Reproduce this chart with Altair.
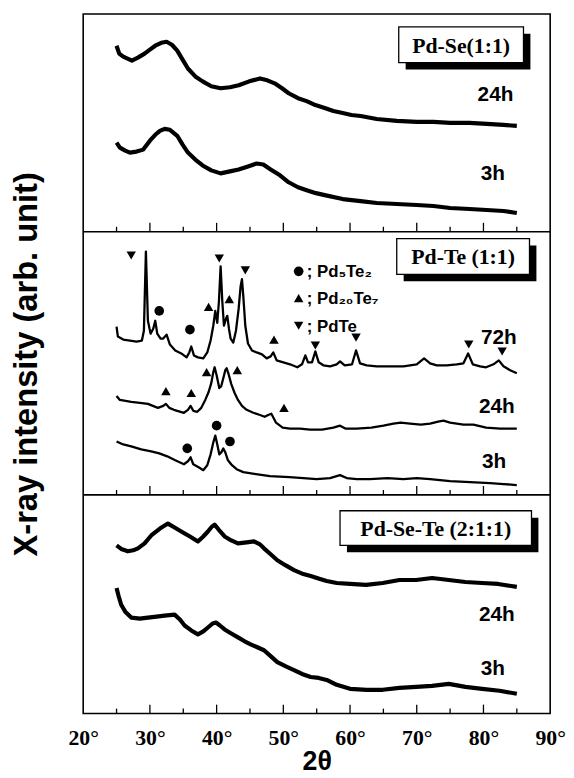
import altair as alt
import pandas as pd

# ---------------- axis / layout values ----------------
x_domain = [20, 90]
axis_values = [20, 30, 40, 50, 60, 70, 80, 90]
major_ticks = [30, 40, 50, 60, 70, 80]
minor_ticks = [25, 35, 45, 55, 65, 75, 85]

panel_names = ["Pd-Se(1:1)", "Pd-Te (1:1)", "Pd-Se-Te (2:1:1)"]
panel_base = [487, 221, 0]          # stacking offset of each panel (arb. units)
panel_dividers = [221, 487]
y_total = 707

# ---------------- Pd-Se (1:1) ----------------
se24_theta = [25.0, 25.4, 26.0, 27.3, 28.2, 29.2, 30.0, 30.8, 31.7, 32.5,
              33.3, 34.1, 34.9, 35.7, 36.8, 37.9, 39.2, 40.6, 42.0, 43.3,
              44.9, 46.5, 47.6, 48.7, 49.8, 50.8, 52.2, 53.5, 54.8, 56.2,
              57.5, 58.9, 60.2, 61.6, 64.0, 67.0, 70.0, 72.5, 75.0, 77.9,
              80.5, 83.0, 85.0]
se24_int = [188, 180, 177, 173, 176, 180, 184, 188, 191, 192,
            189, 183, 174, 165, 157, 152, 147, 145, 146, 148,
            152, 155, 153, 150, 145, 140, 135, 132, 128, 125,
            122, 120, 118, 117, 114, 112, 111, 111, 110, 110,
            109, 108, 107]
se3_theta = [25.0, 25.5, 26.3, 27.0, 28.0, 29.0, 30.0, 30.8, 31.5, 32.2,
             33.0, 34.1, 34.9, 35.7, 36.8, 37.9, 39.2, 40.6, 42.0, 43.3,
             44.7, 46.0, 47.0, 48.1, 49.5, 50.8, 52.2, 53.5, 54.9, 56.2,
             58.9, 61.6, 64.0, 67.0, 70.0, 72.5, 75.0, 77.9, 80.5, 83.0,
             85.0]
se3_int = [90, 85, 82, 80, 81, 83, 92, 98, 102, 104,
           103, 97, 88, 80, 73, 67, 62, 59, 61, 63,
           66, 69, 68, 63, 57, 50, 45, 42, 39, 37,
           33, 31, 29, 28, 27, 26, 24, 23, 22, 21,
           19]

# ---------------- Pd-Te (1:1) ----------------
te72_theta = [25.0, 25.2, 26.0, 27.0, 28.0, 28.8, 29.1, 29.4, 29.7, 30.1,
              30.5, 30.8, 31.1, 31.6, 32.0, 32.5, 33.0, 33.8, 34.7, 35.5,
              35.9, 36.2, 36.6, 37.2, 38.0, 38.6, 39.1, 39.5, 39.8, 40.1,
              40.35, 40.6, 40.85, 41.1, 41.4, 41.6, 41.85, 42.1, 42.5, 42.9,
              43.3, 43.6, 43.8, 44.0, 44.3, 44.7, 45.3, 46.0, 46.8, 47.5,
              48.1, 48.5, 49.0, 50.0, 51.0, 52.1, 52.8, 53.3, 53.7, 54.3,
              54.8, 55.3, 56.0, 57.0, 58.0, 58.5, 59.2, 60.3, 60.9, 61.5,
              62.5, 64.0, 66.0, 68.0, 70.0, 71.1, 72.0, 73.0, 74.5, 76.0,
              77.0, 77.7, 78.4, 79.5, 80.4, 81.5, 82.3, 83.0, 84.0, 85.0]
te72_int = [170, 160, 157, 156, 155, 156, 166, 246, 176, 163,
            168, 176, 163, 158, 158, 162, 152, 146, 143, 139,
            144, 150, 141, 139, 138, 144, 156, 171, 186, 174,
            196, 231, 196, 171, 178, 181, 168, 158, 154, 166,
            188, 211, 218, 201, 171, 153, 146, 144, 142, 138,
            140, 144, 136, 134, 132, 129, 132, 141, 134, 134,
            145, 134, 131, 130, 132, 135, 131, 132, 146, 133,
            131, 130, 130, 130, 132, 138, 133, 131, 131, 132,
            133, 143, 132, 130, 129, 132, 136, 130, 126, 123]
te24_theta = [25.0, 25.5, 27.2, 28.5, 29.7, 31.2, 32.0, 32.4, 32.9, 33.6,
              35.1, 35.7, 36.1, 36.5, 37.1, 37.7, 38.3, 38.8, 39.2, 39.5,
              39.7, 40.0, 40.4, 40.7, 41.0, 41.3, 41.5, 41.8, 42.2, 42.7,
              43.2, 43.8, 44.5, 45.5, 46.4, 47.2, 47.8, 48.2, 48.6, 48.9,
              49.9, 51.0, 52.5, 54.0, 55.8, 57.5, 58.5, 59.3, 61.0, 63.2,
              65.0, 66.5, 67.6, 69.0, 70.6, 72.0, 73.2, 74.0, 75.0, 77.0,
              78.5, 80.4, 82.5, 85.0]
te24_int = [100, 96, 94, 93, 92, 88, 90, 92, 88, 86,
            83, 86, 90, 85, 84, 88, 96, 104, 113, 124,
            129, 121, 108, 110, 118, 126, 128, 122, 112, 103,
            96, 90, 86, 83, 81, 79, 81, 82, 77, 73,
            68, 67, 67, 66, 66, 68, 70, 67, 67, 68,
            70, 72, 73, 72, 71, 72, 74, 75, 73, 71,
            71, 68, 67, 67]
te3_theta = [25.0, 26.0, 27.2, 28.7, 30.2, 31.4, 32.6, 33.8, 35.1, 35.7,
             36.1, 36.5, 37.3, 38.0, 38.6, 39.1, 39.5, 39.8, 40.1, 40.4,
             40.7, 41.0, 41.3, 41.7, 42.3, 43.0, 44.0, 45.9, 48.0, 50.9,
             53.0, 55.0, 57.0, 58.5, 59.5, 61.0, 63.0, 65.6, 68.0, 70.0,
             72.0, 75.0, 78.0, 81.0, 83.0, 85.0]
te3_int = [54, 51, 49, 46, 44, 42, 39, 35, 31, 34,
           38, 31, 28, 25, 30, 41, 53, 60, 51, 41,
           43, 47, 43, 35, 30, 26, 23, 21, 19, 18,
           17, 16, 17, 20, 17, 16, 16, 17, 16, 17,
           16, 14, 13, 12, 11, 10]

# ---------------- Pd-Se-Te (2:1:1) ----------------
st24_theta = [25.0, 25.8, 26.7, 27.5, 28.2, 29.2, 30.2, 31.5, 32.7, 33.7,
              34.7, 36.0, 37.2, 38.0, 38.7, 39.3, 39.7, 40.3, 41.2, 42.2,
              43.2, 44.5, 45.6, 46.5, 47.1, 48.1, 49.1, 50.3, 51.6, 53.0,
              54.1, 55.5, 56.5, 58.0, 60.0, 62.4, 64.9, 67.4, 69.9, 72.3,
              74.8, 77.3, 79.8, 82.2, 85.0]
st24_int = [170, 166, 164, 165, 167, 172, 180, 187, 192, 188,
            184, 179, 174, 179, 184, 189, 191, 186, 179, 175,
            172, 173, 174, 171, 167, 161, 155, 150, 145, 141,
            139, 136, 134, 132, 131, 130, 132, 135, 135, 137,
            135, 133, 132, 131, 128]
st3_theta = [25.0, 25.3, 25.7, 26.3, 27.2, 28.5, 29.7, 31.0, 32.2, 33.7,
             34.5, 35.2, 36.2, 37.2, 38.0, 38.7, 39.4, 39.9, 40.5, 41.2,
             42.2, 43.2, 44.2, 45.1, 46.1, 47.1, 48.1, 49.1, 50.3, 51.6,
             52.8, 54.1, 55.3, 56.5, 58.0, 60.0, 62.5, 64.9, 67.4, 69.9,
             72.3, 74.8, 77.3, 79.8, 82.4, 85.0]
st3_int = [127, 119, 110, 103, 97, 96, 97, 98, 99, 100,
           95, 89, 84, 80, 83, 87, 91, 92, 89, 85,
           81, 77, 73, 70, 67, 64, 58, 52, 48, 44,
           40, 37, 36, 34, 29, 25, 24, 24, 26, 27,
           28, 30, 27, 25, 23, 20]

# ---------------- phase markers (Pd-Te panel, panel-relative intensity) -------
mark_phase = ["PdTe", "Pd5Te2", "Pd5Te2", "Pd20Te7", "PdTe", "Pd20Te7", "PdTe",
              "Pd20Te7", "PdTe", "PdTe", "PdTe", "PdTe",
              "Pd20Te7", "Pd20Te7", "Pd20Te7", "Pd20Te7", "Pd20Te7",
              "Pd5Te2", "Pd5Te2", "Pd5Te2"]
mark_theta = [27.2, 31.4, 36.0, 38.8, 40.4, 41.9, 44.3, 48.6, 54.8, 60.9, 77.8, 82.8,
              32.4, 36.2, 38.5, 43.1, 50.1,
              35.6, 40.0, 42.0]
mark_int = [242, 186, 167, 190, 239, 198, 227, 157, 151, 159, 152, 145,
            105, 103, 124, 126, 88,
            47, 70, 54]

legend_phase = ["Pd5Te2", "Pd20Te7", "PdTe"]
legend_text = ["; Pd\u2085Te\u2082", "; Pd\u2082\u2080Te\u2087", "; PdTe"]
legend_int = [226, 199, 171]
legend_theta = 52.3
legend_text_theta = 53.5

# ---------------- time labels ----------------
time_text = ["24h", "3h", "72h", "24h", "3h", "24h", "3h"]
time_panel = [0, 0, 1, 1, 1, 2, 2]
time_theta = [81.8, 81.4, 82.3, 82.0, 81.6, 82.0, 81.4]
time_int = [138, 58, 159, 89, 33, 100, 45]

# ---------------- sample boxes ----------------
box_theta = [67.3, 67.0, 58.5]
box_theta2 = [86.0, 86.9, 87.2]
box_int = [207, 259, 205]      # top of box, panel-relative
box_int2 = [171, 223, 170]     # bottom of box, panel-relative

# ======================= build tables =======================
traces = [
    ("se24", 0, se24_theta, se24_int, 4.2),
    ("se3", 0, se3_theta, se3_int, 4.2),
    ("te72", 1, te72_theta, te72_int, 2.3),
    ("te24", 1, te24_theta, te24_int, 2.3),
    ("te3", 1, te3_theta, te3_int, 2.3),
    ("st24", 2, st24_theta, st24_int, 4.2),
    ("st3", 2, st3_theta, st3_int, 4.2),
]
rows = []
for key, p, th, it, sw in traces:
    for t, v in zip(th, it, strict=True):
        rows.append({"trace": key, "theta": t, "u": panel_base[p] + v, "sw": sw})
trace_df = pd.DataFrame(rows)

tick_rows = []
for base in panel_base:
    for t in major_ticks:
        tick_rows.append({"theta": t, "u": base, "u2": base + 9})
    for t in minor_ticks:
        tick_rows.append({"theta": t, "u": base, "u2": base + 5})
tick_df = pd.DataFrame(tick_rows)

div_df = pd.DataFrame({"u": panel_dividers})

marker_df = pd.DataFrame({"phase": mark_phase, "theta": mark_theta,
                          "u": [panel_base[1] + v for v in mark_int]})
leg_df = pd.DataFrame({"phase": legend_phase, "theta": [legend_theta] * 3,
                       "theta_t": [legend_text_theta] * 3, "label": legend_text,
                       "u": [panel_base[1] + v for v in legend_int]})
time_df = pd.DataFrame({"label": time_text, "theta": time_theta,
                        "u": [panel_base[p] + v for p, v in zip(time_panel, time_int)]})
box_df = pd.DataFrame({"name": panel_names, "theta": box_theta, "theta2": box_theta2,
                       "u": [b + v for b, v in zip(panel_base, box_int)],
                       "u2": [b + v for b, v in zip(panel_base, box_int2)]})
box_df["tc"] = (box_df["theta"] + box_df["theta2"]) / 2
box_df["uc"] = (box_df["u"] + box_df["u2"]) / 2

# ======================= encodings =======================
xscale = alt.Scale(domain=x_domain, nice=False, zero=False)
yscale = alt.Scale(domain=[0, y_total], nice=False, zero=False)
xaxis = alt.Axis(values=axis_values, labelExpr="datum.value + '°'", ticks=False,
                 domain=False, grid=False, labelFont="Liberation Serif",
                 labelFontSize=22, labelFontWeight="bold", labelColor="black",
                 labelPadding=14, labelFlush=False, labelOverlap=False,
                 title="2θ", titleFont="Liberation Sans", titleFontSize=27,
                 titleFontWeight="bold", titleColor="black", titlePadding=1)
yaxis = alt.Axis(labels=False, ticks=False, domain=False, grid=False,
                 title="X-ray intensity (arb. unit)", titleFont="Liberation Sans",
                 titleFontSize=33, titleFontWeight="bold", titleColor="black",
                 titlePadding=40)


def X(field="theta"):
    return alt.X(f"{field}:Q", scale=xscale, axis=xaxis)


def Y(field="u"):
    return alt.Y(f"{field}:Q", scale=yscale, axis=yaxis)


lines = alt.Chart(trace_df).mark_line(color="black", strokeJoin="round").encode(
    x=X(), y=Y(), detail="trace:N",
    strokeWidth=alt.StrokeWidth("sw:Q", scale=None),
    order="theta:Q",
)

ticks = alt.Chart(tick_df).mark_rule(color="black", strokeWidth=1.3).encode(
    x=X(), y=Y(), y2="u2:Q")

dividers = alt.Chart(div_df).mark_rule(color="black", strokeWidth=1.6).encode(y=Y())

shape_scale = alt.Scale(domain=["Pd5Te2", "Pd20Te7", "PdTe"],
                        range=["circle", "triangle-up", "triangle-down"])
size_scale = alt.Scale(domain=["Pd5Te2", "Pd20Te7", "PdTe"], range=[95, 90, 90])

markers = alt.Chart(marker_df).mark_point(filled=True, color="black", opacity=1).encode(
    x=X(), y=Y(),
    shape=alt.Shape("phase:N", scale=shape_scale, legend=None),
    size=alt.Size("phase:N", scale=size_scale, legend=None),
)
leg_markers = alt.Chart(leg_df).mark_point(filled=True, color="black", opacity=1).encode(
    x=X(), y=Y(),
    shape=alt.Shape("phase:N", scale=shape_scale, legend=None),
    size=alt.Size("phase:N", scale=size_scale, legend=None),
)
leg_text = alt.Chart(leg_df).mark_text(
    align="left", baseline="middle", font="Liberation Sans", fontSize=17,
    fontWeight="bold", color="black", dy=1).encode(
    x=X("theta_t"), y=Y(), text="label:N")

time_labels = alt.Chart(time_df).mark_text(
    align="center", baseline="middle", font="Liberation Sans", fontSize=21,
    fontWeight="bold", color="black").encode(x=X(), y=Y(), text="label:N")

shadow = alt.Chart(box_df).mark_rect(
    color="black", xOffset=7, x2Offset=7, yOffset=7, y2Offset=7).encode(
    x=X(), x2="theta2:Q", y=Y(), y2="u2:Q")
boxes = alt.Chart(box_df).mark_rect(
    fill="white", stroke="black", strokeWidth=1.3).encode(
    x=X(), x2="theta2:Q", y=Y(), y2="u2:Q")
box_text = alt.Chart(box_df).mark_text(
    align="center", baseline="middle", font="Liberation Serif", fontSize=22,
    fontWeight="bold", color="black", dy=1).encode(
    x=X("tc"), y=Y("uc"), text="name:N")

chart = alt.layer(
    lines, ticks, dividers, markers, leg_markers, leg_text, time_labels,
    shadow, boxes, box_text,
).properties(
    width=472, height=707,
    autosize=alt.AutoSizeParams(type="none"),
    padding={"left": 76, "top": 2, "right": 16, "bottom": 61},
).configure_view(
    stroke="black", strokeWidth=1.6
)

chart.save("out.html", embed_options={"renderer": "svg", "actions": False})
